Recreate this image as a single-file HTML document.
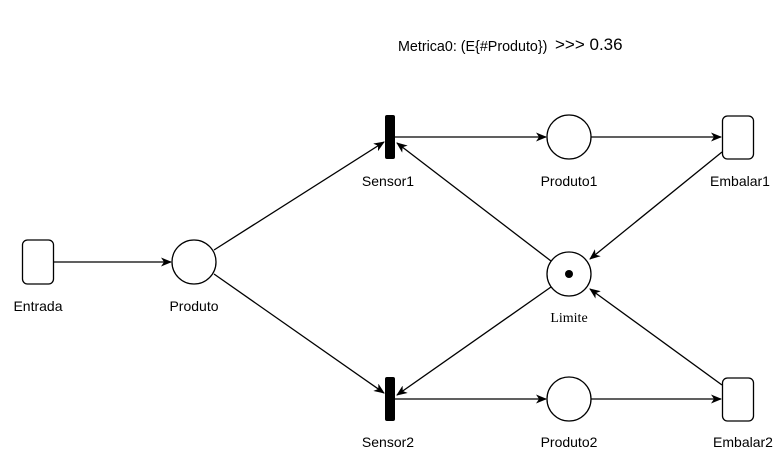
<!DOCTYPE html>
<html><head><style>
body{margin:0;background:#fff;}
svg{display:block;font-family:"Liberation Sans",Arial,sans-serif;}
</style></head><body>
<svg width="782" height="458" viewBox="0 0 782 458" xmlns="http://www.w3.org/2000/svg">
<defs>
<marker id="a" markerWidth="11" markerHeight="9" refX="10" refY="4.5" orient="auto" markerUnits="userSpaceOnUse">
<path d="M0,0 L11,4.5 L0,9 L3,4.5 Z" fill="#000"/>
</marker>
</defs>
<rect width="782" height="458" fill="#fff"/>
<g stroke="#000" stroke-width="1.3" fill="none">
<line x1="53" y1="262" x2="171" y2="262" marker-end="url(#a)"/>
<line x1="214" y1="250" x2="384" y2="142" marker-end="url(#a)"/>
<line x1="214" y1="274" x2="384" y2="393" marker-end="url(#a)"/>
<line x1="395" y1="137" x2="546" y2="137" marker-end="url(#a)"/>
<line x1="591" y1="137" x2="721" y2="137" marker-end="url(#a)"/>
<line x1="395" y1="399" x2="546" y2="399" marker-end="url(#a)"/>
<line x1="591" y1="399" x2="721" y2="399" marker-end="url(#a)"/>
<line x1="551" y1="261" x2="397" y2="143" marker-end="url(#a)"/>
<line x1="722" y1="152" x2="590" y2="259" marker-end="url(#a)"/>
<line x1="551" y1="287" x2="397" y2="395" marker-end="url(#a)"/>
<line x1="722" y1="385" x2="590" y2="289" marker-end="url(#a)"/>
</g>
<g stroke="#000" stroke-width="1.3" fill="#fff">
<rect x="22.5" y="240" width="31" height="44" rx="5"/>
<rect x="722.5" y="116" width="31" height="43" rx="5"/>
<rect x="722.5" y="378" width="31" height="43" rx="5"/>
<circle cx="194" cy="262" r="22"/>
<circle cx="569" cy="137" r="22"/>
<circle cx="569" cy="274" r="22"/>
<circle cx="569" cy="399" r="22"/>
</g>
<rect x="385" y="115" width="10" height="44" rx="2" fill="#000"/>
<rect x="385" y="377" width="10" height="44" rx="2" fill="#000"/>
<circle cx="569" cy="274" r="4" fill="#000"/>
<g font-size="14" fill="#000" text-anchor="middle">
<text x="38" y="311">Entrada</text>
<text x="194" y="311">Produto</text>
<text x="388" y="186">Sensor1</text>
<text x="569" y="186">Produto1</text>
<text x="740" y="186">Embalar1</text>
<text x="388" y="447">Sensor2</text>
<text x="569" y="447">Produto2</text>
<text x="743" y="447">Embalar2</text>
<text x="569" y="322" font-family="Liberation Serif,serif">Limite</text>
</g>
<text x="398" y="51" font-size="14.3">Metrica0: (E{#Produto})</text>
<text x="555" y="50" font-size="17">&gt;&gt;&gt; 0.36</text>
</svg>
</body></html>
